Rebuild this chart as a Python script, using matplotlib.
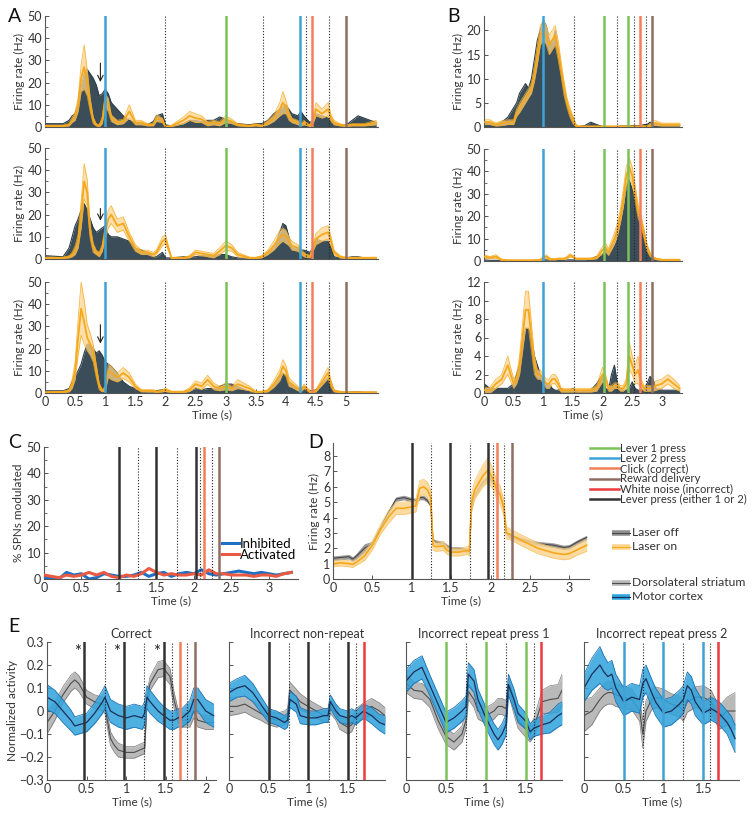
import numpy as np
import matplotlib
matplotlib.use('Agg')
from matplotlib import pyplot as plt
from matplotlib.ticker import FuncFormatter, MultipleLocator
from matplotlib.lines import Line2D

plt.rcParams['font.family'] = ['Lato', 'DejaVu Sans']

# ---------------- data ----------------
# panel A: shared time knots (s) for the three example neurons
a_time = [0, .3, .4, .45, .5, .55, .6, .65, .7, .75, .8, .85, .9, .95, 1.0, 1.05, 1.1, 1.2, 1.3, 1.4,
          1.5, 1.6, 1.7, 1.8, 1.85, 1.95, 2.0, 2.1, 2.3, 2.4, 2.5, 2.6, 2.7, 2.8, 2.9, 3.0, 3.1, 3.2, 3.4, 3.5,
          3.6, 3.7, 3.8, 3.9, 3.95, 4.0, 4.05, 4.1, 4.2, 4.25, 4.3, 4.4, 4.45, 4.5, 4.6, 4.7, 4.75, 4.8, 4.9, 5.0,
          5.1, 5.2, 5.3, 5.4, 5.5]
a1_off = [1.5, 1.5, 3, 5, 6, 10, 18, 24, 26, 24, 22, 19, 14, 15, 17, 15, 11, 8, 5, 3, 2, 2, 1, 2.5, 5,
          6, 1, 0.5, 1.5, 3, 3, 2.5, 3, 3, 4.5, 3.5, 2, 1.5, 1, 1.5, 1.5, 3, 6, 8, 9, 10, 8, 6, 5, 7,
          5, 2, 3, 6, 5, 4, 3, 2, 1, 0.8, 3, 5, 4, 3, 2]
a1_on = [0.5, 0.5, 1, 3, 5, 10, 22, 27, 20, 10, 3, 1, 0.5, 3, 12, 10, 4, 2, 2.5, 7, 2, 2, 1, 1, 4,
         3, 0, 0.5, 3, 5, 4, 3.5, 1.5, 2, 1.5, 3.5, 2.5, 1, 0.5, 1, 0.5, 2, 4, 8, 11, 9, 5, 3, 2, 1,
         2, 0.5, 3, 8, 6, 8, 4, 2, 1, 0.5, 1, 1, 1, 1.5, 2]
a1_on_e = [0.3, 0.3, 0.5, 1, 2, 3, 6, 10, 6, 3, 1.5, 0.5, 0.5, 1.5, 3, 3, 1.5, 1, 1, 3, 1, 1, 0.5, 0.5, 1.5,
           1, 0.3, 0.3, 1.5, 2, 2, 1.5, 1, 1, 1, 1.5, 1, 0.5, 0.3, 0.5, 0.3, 1, 1.5, 3, 5, 3, 2, 1, 1, 0.5,
           1, 0.3, 1.5, 3, 2, 3, 1.5, 1, 0.5, 0.3, 0.5, 0.5, 0.5, 0.8, 1]
a2_off = [1.5, 1, 5, 10, 15, 18, 22, 25, 22, 18, 14, 12, 13, 14, 15, 11, 10, 10, 9, 8, 5, 4, 3, 1, 1,
          3, 0.5, 0.5, 1, 1, 1, 1.5, 2, 1.5, 2, 2, 1, 0.5, 0.3, 0.5, 1, 2, 5, 12, 16, 15, 10, 5, 5, 4,
          4, 3, 5, 9, 8, 8, 5, 1, 0.5, 0.5, 1, 1, 0.5, 0.5, 0.5]
a2_on = [0.5, 0.5, 1, 2, 4, 8, 20, 35, 30, 12, 5, 3, 2, 5, 12, 18, 20, 15, 16, 10, 5, 3, 3, 2, 3,
         8, 9, 0.5, 0.5, 1, 3, 2.5, 2, 1.5, 3.5, 6, 5, 2, 0.5, 0.5, 1, 3, 6, 10, 11, 10, 8, 6, 5, 3,
         2, 1, 5, 9, 11, 12, 8, 3, 1, 0.5, 0.5, 0.5, 0.5, 0.5, 0.5]
a2_on_e = [0.3, 0.3, 0.5, 1, 2, 3, 6, 8, 6, 3, 2, 1, 1, 1.5, 3, 4, 4, 3, 3, 2, 1.5, 1, 1, 1, 1,
           2, 2, 0.3, 0.3, 0.5, 1, 1, 1, 1, 1.5, 2, 1.5, 1, 0.3, 0.3, 0.5, 1, 2, 3, 3, 3, 2, 2, 1.5, 1,
           1, 0.5, 1.5, 2.5, 3, 3, 2, 1, 0.5, 0.3, 0.3, 0.3, 0.3, 0.3, 0.3]
a3_off = [1, 1, 2, 5, 8, 10, 13, 18, 22, 22, 20, 18, 19, 17, 14, 13, 12, 9, 5, 3, 2, 1, 0.5, 0.5, 1,
          1.5, 0.5, 0.3, 0.3, 1, 2, 1.5, 2, 2, 3, 4, 4, 3, 0.5, 0.5, 0.5, 1, 4, 7, 9, 8, 5, 4, 2, 1.5,
          3, 1, 1, 1.5, 4, 7, 5, 1, 0.3, 0.2, 0.5, 0.5, 0.3, 0.3, 0.3]
a3_on = [0.3, 0.5, 1, 4, 10, 25, 38, 32, 25, 22, 18, 10, 3, 1, 2, 10, 9, 7, 9, 7, 3, 1, 1, 1, 0.5,
         1, 1.5, 0.5, 0.5, 1.5, 4, 3, 6, 3, 2, 3, 2, 4, 2, 0.5, 0.5, 1, 4, 8, 12, 10, 5, 4, 2, 1,
         3, 0.5, 0.5, 1, 5, 9, 4, 1, 0.5, 0.3, 0.3, 0.3, 0.3, 0.3, 0.3]
a3_on_e = [0.2, 0.3, 0.5, 2, 4, 8, 12, 10, 6, 5, 4, 3, 1.5, 0.5, 1, 3, 3, 2, 2.5, 2, 1, 0.5, 0.5, 0.5, 0.3,
           0.5, 0.8, 0.3, 0.3, 0.8, 1.5, 1.5, 2, 1.5, 1, 1.5, 1, 2, 1, 0.3, 0.3, 0.5, 1.5, 2.5, 3, 2.5, 2, 1.5, 1, 0.5,
           1, 0.3, 0.3, 0.5, 1.5, 2.5, 1.5, 0.5, 0.3, 0.2, 0.2, 0.2, 0.2, 0.2, 0.2]

# panel B: shared time knots (s)
b_time = [0, .1, .2, .3, .4, .5, .55, .6, .65, .7, .75, .8, .85, .9, .95, 1.0, 1.05, 1.1, 1.15, 1.2,
          1.25, 1.3, 1.35, 1.4, 1.45, 1.5, 1.55, 1.6, 1.7, 1.8, 1.9, 2.0, 2.05, 2.1, 2.15, 2.2, 2.25, 2.3, 2.35, 2.4,
          2.45, 2.5, 2.55, 2.6, 2.65, 2.7, 2.75, 2.8, 2.85, 2.9, 3.0, 3.1, 3.2, 3.3]
b1_off = [1, 1, 0.5, 1, 2, 4, 5, 7, 8, 9, 8, 10, 14, 18, 20, 22, 21, 18, 17, 20, 16, 12, 8, 5, 3,
          2, 0.3, 0.1, 0.3, 1, 0.5, 0.1, 0.1, 0.1, 0.1, 0.1, 0.1, 0.2, 0.2, 0.2, 0.2, 0.3, 0.3, 0.3, 0.3,
          0.5, 0.5, 1, 0.8, 0.5, 0.3, 0.3, 0.3, 0.3]
b1_on = [1, 1, 0.5, 0.8, 1, 1, 3, 4, 5, 6, 7, 8, 11, 15, 19, 20, 19, 17, 18, 19, 16, 12, 8, 5, 3,
         1.5, 0.3, 0.1, 0.1, 0.1, 0.1, 0.1, 0.1, 0.1, 0.1, 0.1, 0.1, 0.1, 0.1, 0.1, 0.1, 0.1, 0.1, 0.1, 0.1,
         0.1, 0.1, 0.3, 0.8, 0.8, 0.5, 0.5, 0.5, 0.5]
b1_on_e = [0.5, 0.5, 0.3, 0.5, 0.5, 0.5, 0.8, 1, 1, 1, 1, 1, 1.5, 2, 2, 2, 2, 2, 2, 2, 2, 1.5, 1.5, 1, 1,
           0.8, 0.3, 0.1, 0.1, 0.1, 0.1, 0.1, 0.1, 0.1, 0.1, 0.1, 0.1, 0.1, 0.1, 0.1, 0.1, 0.1, 0.1, 0.1, 0.1,
           0.1, 0.1, 0.3, 0.5, 0.5, 0.3, 0.3, 0.3, 0.3]
b2_off = [0.5, 0.3, 0.3, 0.3, 0.2, 0.2, 0.2, 0.2, 0.2, 0.2, 0.2, 0.2, 0.3, 0.3, 0.5, 0.5, 0.5, 0.5, 0.3, 0.3,
          0.3, 0.3, 0.3, 0.5, 0.5, 0.5, 0.5, 0.5, 0.5, 1, 2, 3, 5, 4, 6, 8, 12, 18, 25, 33,
          36, 32, 28, 22, 17, 13, 5, 2, 1, 0.5, 0.3, 0.3, 0.3, 0.3]
b2_on = [2, 1.5, 2, 0.5, 0.3, 0.3, 0.3, 0.3, 0.3, 0.3, 0.3, 0.3, 0.3, 0.3, 0.5, 1.5, 2, 1, 0.8, 0.8,
         1, 1, 1, 1.5, 2.5, 2, 1, 1, 1, 1, 1.5, 5, 6, 4, 7, 10, 14, 20, 28, 38,
         42, 38, 30, 22, 18, 12, 6, 3, 1.5, 1, 0.5, 0.5, 0.5, 0.5]
b2_on_e = [0.8, 0.5, 0.8, 0.3, 0.2, 0.2, 0.2, 0.2, 0.2, 0.2, 0.2, 0.2, 0.2, 0.2, 0.3, 0.5, 0.8, 0.5, 0.3, 0.3,
           0.3, 0.3, 0.3, 0.5, 0.8, 0.5, 0.3, 0.3, 0.3, 0.3, 0.5, 1.5, 2, 1.5, 2, 2.5, 3, 3, 4, 4,
           4, 4, 3.5, 3, 2.5, 2, 1.5, 1, 0.5, 0.3, 0.3, 0.3, 0.3, 0.3]
b3_off = [1, 0.5, 0.5, 0.5, 0.5, 1, 2, 3, 5, 7, 7, 6, 4, 3, 2, 1.5, 1, 1, 0.5, 0.3,
          0.3, 0.5, 0.3, 0.3, 0.3, 0.5, 0.3, 0.2, 0.3, 0.3, 1, 2, 0.5, 0.3, 2, 3, 1, 0.5, 0.3, 0.3,
          0.5, 1.2, 0.5, 0.3, 0.3, 0.5, 1, 1.8, 1.5, 0.5, 0.3, 0.3, 0.3, 0.3]
b3_on = [0.3, 0.3, 1, 1.5, 3, 1, 1.5, 3, 6, 9, 9, 6, 3, 2, 2, 1.5, 1, 1, 1.5, 1.5,
         1, 0.3, 0.3, 0.3, 0.3, 0.3, 0.3, 0.3, 0.3, 0.3, 0.5, 2, 1.5, 0.5, 0.5, 0.8, 0.8, 0.5, 0.5, 1,
         4, 3, 2, 2.5, 1, 0.5, 0.5, 0.5, 0.5, 0.8, 1, 1.5, 1, 0.5]
b3_on_e = [0.3, 0.3, 0.5, 0.5, 1, 0.5, 0.5, 1, 1.5, 2, 2, 1.5, 1, 0.5, 0.5, 0.5, 0.5, 0.5, 0.5, 0.5,
           0.5, 0.2, 0.2, 0.2, 0.2, 0.2, 0.2, 0.2, 0.2, 0.2, 0.3, 0.8, 0.5, 0.3, 0.3, 0.3, 0.3, 0.3, 0.3, 0.5,
           1.5, 1, 1, 1.5, 0.5, 0.3, 0.3, 0.3, 0.3, 0.5, 0.5, 0.5, 0.5, 0.3]

# panel C: % SPNs modulated, 0.1 s bins
c_inhibited = [0.5, 0.5, 0, 2.5, 1.5, 2, 0, 0.5, 2, 1.5, 1, 1, 1.5, 2.5, 1, 2, 2.5, 1, 2, 2.5,
               2, 3.5, 2, 1.5, 2, 2.5, 3, 2.5, 2, 2.5, 2, 1.5, 2, 2.5]
c_activated = [1.5, 1, 0.5, 1.5, 1, 1.5, 2.5, 1.5, 2.5, 1, 0.5, 1.5, 1, 2, 4, 2.5, 1.5, 2, 1.5, 1.5,
               2, 1.5, 3.5, 2, 2, 1.5, 1.5, 1.5, 1, 1.5, 1.5, 1, 2, 2.5]
c_time = np.arange(len(c_inhibited)) * 0.1

# panel D: population firing rate
d_time = [0, .1, .2, .25, .3, .4, .5, .6, .7, .8, .9, 1.0, 1.05, 1.1, 1.15, 1.2, 1.24, 1.27, 1.3, 1.4,
          1.45, 1.5, 1.6, 1.7, 1.73, 1.76, 1.8, 1.9, 1.97, 2.0, 2.05, 2.08, 2.12, 2.17, 2.2, 2.25, 2.4, 2.6, 2.8, 2.93,
          3.0, 3.1, 3.22]
d_on = [1.0, 1.05, 1.0, 0.95, 1.1, 1.5, 2.2, 3.2, 4.0, 4.6, 4.6, 4.7, 4.75, 5.9, 6.0, 5.8, 5.3, 2.2, 2.1, 2.15,
        1.85, 1.75, 1.75, 1.85, 1.8, 5.0, 5.8, 6.7, 7.1, 6.8, 6.3, 5.7, 5.5, 4.6, 3.0, 2.9, 2.5, 2.0, 1.7, 1.6,
        1.65, 1.9, 2.2]
d_on_e = [0.2, 0.2, 0.2, 0.2, 0.2, 0.3, 0.3, 0.3, 0.4, 0.4, 0.4, 0.4, 0.4, 0.5, 0.5, 0.5, 0.5, 0.3, 0.3, 0.3,
          0.25, 0.25, 0.25, 0.25, 0.3, 0.6, 0.6, 0.7, 0.8, 0.7, 0.6, 0.6, 0.6, 0.5, 0.4, 0.35, 0.35, 0.35, 0.35, 0.35,
          0.35, 0.35, 0.4]
d_off = [1.35, 1.4, 1.45, 1.3, 1.5, 2.0, 2.3, 3.3, 4.3, 5.2, 5.3, 5.15, 5.1, 5.3, 5.3, 5.1, 4.8, 2.5, 2.4, 2.3,
         2.1, 1.95, 1.95, 1.9, 1.75, 4.7, 5.5, 6.3, 6.6, 6.5, 6.2, 5.9, 5.6, 4.5, 3.0, 2.75, 2.55, 2.3, 2.2, 2.05,
         2.1, 2.4, 2.7]
d_off_e = [0.15, 0.15, 0.15, 0.15, 0.2, 0.3, 0.15, 0.15, 0.15, 0.15, 0.15, 0.15, 0.15, 0.15, 0.15, 0.15, 0.15, 0.15, 0.15, 0.15,
           0.15, 0.15, 0.15, 0.15, 0.15, 0.15, 0.15, 0.15, 0.15, 0.15, 0.15, 0.15, 0.15, 0.15, 0.15, 0.15, 0.15, 0.15, 0.15, 0.15,
           0.15, 0.15, 0.15]

# panel E: normalized activity, DLS (grey) and motor cortex (blue)
e1_time = [0, .1, .2, .3, .35, .4, .5, .6, .7, .73, .8, .85, .9, 1.0, 1.1, 1.2, 1.23, 1.26, 1.3, 1.4,
           1.47, 1.55, 1.6, 1.65, 1.7, 1.8, 1.85, 1.9, 2.0, 2.1]
e1_dls = [-0.05, 0.0, 0.07, 0.12, 0.135, 0.12, 0.06, 0.04, 0.03, 0.02, -0.12, -0.15, -0.17, -0.18, -0.18,
          -0.165, -0.16, 0.05, 0.12, 0.18, 0.185, 0.15, 0.05, -0.02, -0.04, -0.04, 0.0, -0.04, -0.05, -0.05]
e1_dls_e = [0.05, 0.04, 0.035, 0.035, 0.035, 0.035, 0.03, 0.03, 0.03, 0.03, 0.03, 0.03, 0.03, 0.025, 0.025,
            0.025, 0.025, 0.03, 0.03, 0.035, 0.035, 0.035, 0.035, 0.03, 0.03, 0.03, 0.03, 0.03, 0.03, 0.03]
e1_mc = [0.06, 0.04, 0.0, -0.04, -0.065, -0.06, -0.05, -0.01, 0.04, 0.06, 0.0, -0.01, -0.02, -0.03, -0.02,
         -0.03, -0.01, 0.06, 0.04, 0.0, -0.02, -0.04, -0.04, -0.03, -0.03, 0.0, 0.05, 0.05, 0.0, -0.02]
e1_mc_e = [0.055, 0.05, 0.05, 0.045, 0.04, 0.04, 0.04, 0.045, 0.05, 0.05, 0.05, 0.05, 0.05, 0.05, 0.05,
           0.05, 0.05, 0.05, 0.05, 0.045, 0.04, 0.04, 0.04, 0.04, 0.04, 0.045, 0.05, 0.05, 0.05, 0.05]

e2_time = [0, .1, .2, .3, .4, .5, .6, .7, .74, .77, .85, .9, 1.0, 1.1, 1.2, 1.25, 1.28, 1.35, 1.4, 1.5,
           1.55, 1.6, 1.7, 1.8, 1.9, 1.97]
e2_dls = [0.02, 0.02, 0.03, 0.01, -0.01, -0.03, -0.04, -0.03, -0.02, 0.09, 0.06, 0.04, 0.02, 0.0, -0.02,
          -0.02, 0.02, -0.01, -0.05, -0.07, -0.06, -0.02, 0.0, 0.02, 0.0, -0.02]
e2_dls_e = [0.04, 0.035, 0.035, 0.035, 0.03, 0.03, 0.03, 0.03, 0.03, 0.035, 0.035, 0.035, 0.03, 0.03, 0.03,
            0.03, 0.03, 0.03, 0.03, 0.03, 0.03, 0.03, 0.035, 0.035, 0.035, 0.035]
e2_mc = [0.08, 0.10, 0.11, 0.08, 0.03, -0.02, -0.03, -0.05, -0.04, 0.05, 0.03, -0.02, -0.03, -0.03, -0.02,
         -0.02, 0.04, 0.0, -0.02, -0.03, -0.02, -0.03, 0.0, -0.02, -0.05, -0.06]
e2_mc_e = [0.04, 0.04, 0.045, 0.04, 0.035, 0.03, 0.03, 0.03, 0.03, 0.035, 0.035, 0.035, 0.03, 0.03, 0.03,
           0.03, 0.03, 0.03, 0.03, 0.03, 0.03, 0.03, 0.03, 0.035, 0.035, 0.04]

e3_time = [0, .1, .2, .3, .4, .5, .6, .7, .75, .78, .85, .9, 1.0, 1.1, 1.15, 1.2, 1.25, 1.28, 1.35, 1.4,
           1.5, 1.55, 1.6, 1.7, 1.8, 1.9, 1.95]
e3_dls = [0.12, 0.09, 0.085, 0.05, -0.04, -0.11, -0.135, -0.1, -0.04, 0.085, 0.05, 0.0, -0.02, 0.0, 0.02,
          0.02, 0.01, 0.11, 0.02, -0.04, -0.08, -0.1, -0.07, 0.04, 0.05, 0.055, 0.09]
e3_dls_e = [0.04, 0.035, 0.035, 0.035, 0.035, 0.035, 0.035, 0.035, 0.035, 0.035, 0.035, 0.035, 0.035, 0.035, 0.035,
            0.035, 0.035, 0.035, 0.035, 0.035, 0.035, 0.035, 0.04, 0.05, 0.06, 0.06, 0.07]
e3_mc = [0.13, 0.17, 0.19, 0.11, 0.03, -0.05, -0.03, 0.0, 0.02, 0.16, 0.13, 0.05, -0.03, -0.1, -0.125,
         -0.1, -0.06, 0.115, 0.05, -0.01, -0.045, -0.09, -0.075, -0.06, -0.05, -0.02, -0.01]
e3_mc_e = [0.05, 0.05, 0.05, 0.045, 0.045, 0.045, 0.045, 0.045, 0.045, 0.05, 0.05, 0.045, 0.045, 0.045, 0.045,
           0.045, 0.045, 0.045, 0.045, 0.04, 0.035, 0.035, 0.035, 0.04, 0.045, 0.05, 0.05]

e4_time = [0, .1, .2, .25, .3, .35, .4, .5, .6, .7, .74, .78, .85, .9, 1.0, 1.1, 1.2, 1.25, 1.3, 1.35,
           1.4, 1.5, 1.6, 1.7, 1.8, 1.85, 1.9]
e4_dls = [-0.02, 0.0, 0.05, 0.07, 0.08, 0.08, 0.07, 0.06, 0.05, 0.0, -0.1, 0.0, 0.05, 0.06, 0.05,
          0.03, 0.02, 0.0, 0.04, 0.05, 0.06, 0.06, 0.04, -0.03, 0.0, 0.0, 0.0]
e4_dls_e = [0.07, 0.06, 0.05, 0.05, 0.05, 0.05, 0.05, 0.05, 0.045, 0.045, 0.06, 0.045, 0.045, 0.045, 0.045,
            0.045, 0.045, 0.045, 0.045, 0.045, 0.045, 0.05, 0.05, 0.05, 0.06, 0.07, 0.08]
e4_mc = [0.10, 0.16, 0.20, 0.17, 0.15, 0.16, 0.10, 0.04, 0.06, 0.05, 0.12, 0.14, 0.08, 0.04, -0.01,
         0.0, 0.03, 0.05, 0.11, 0.09, 0.04, -0.01, 0.01, -0.01, -0.05, -0.08, -0.12]
e4_mc_e = [0.06, 0.07, 0.08, 0.07, 0.06, 0.06, 0.06, 0.06, 0.06, 0.06, 0.06, 0.06, 0.06, 0.06, 0.06,
           0.06, 0.06, 0.06, 0.06, 0.06, 0.06, 0.05, 0.05, 0.05, 0.05, 0.06, 0.06]

# task events (time in s, event type); dotted = unlabelled markers
a_events = [(1.0, 'lever2'), (3.0, 'lever1'), (4.24, 'lever2'), (4.44, 'click'), (5.0, 'reward')]
a_dotted = [2.0, 3.62, 4.34, 4.72]
b_events = [(0.99, 'lever2'), (2.03, 'lever1'), (2.43, 'lever1'), (2.63, 'click'), (2.83, 'reward')]
b_dotted = [1.52, 2.24, 2.53, 2.73]
c_events = [(1.0, 'press'), (1.5, 'press'), (2.03, 'press'), (2.13, 'click'), (2.34, 'reward')]
c_dotted = [1.25, 1.77, 2.08, 2.24]
d_events = [(1.0, 'press'), (1.49, 'press'), (1.97, 'press'), (2.08, 'click'), (2.27, 'reward')]
d_dotted = [1.25, 1.74, 2.03, 2.17]
e1_events = [(0.47, 'press'), (0.97, 'press'), (1.47, 'press'), (1.67, 'click'), (1.87, 'reward')]
e1_dotted = [0.73, 1.22, 1.57, 1.77]
e2_events = [(0.5, 'press'), (1.0, 'press'), (1.5, 'press'), (1.7, 'noise')]
e2_dotted = [0.76, 1.26, 1.6]
e3_events = [(0.5, 'lever1'), (1.0, 'lever1'), (1.5, 'lever1'), (1.69, 'noise')]
e3_dotted = [0.75, 1.25, 1.6]
e4_events = [(0.5, 'lever2'), (1.0, 'lever2'), (1.5, 'lever2'), (1.68, 'noise')]
e4_dotted = [0.74, 1.24, 1.59]
star_times = [0.38, 0.88, 1.38]

event_labels = ['Lever 1 press', 'Lever 2 press', 'Click (correct)', 'Reward delivery',
                'White noise (incorrect)', 'Lever press (either 1 or 2)']
event_keys = ['lever1', 'lever2', 'click', 'reward', 'noise', 'press']
ecol = {'lever1': '#7cc259', 'lever2': '#3ea2d7', 'click': '#f17f5c', 'reward': '#8e6e63',
        'noise': '#ec3a3d', 'press': '#333333'}

# ---------------- style ----------------
W, H = 754, 815
DARK = '#3a4d58'
ORANGE = '#f5a81c'
ORANGE_BAND = '#fbd58f'
SPINE = '#555555'
TXT = '#333333'
FS = 9      # tick labels
LFS = 8.5   # axis labels


def box(x0, y0, x1, y1):
    return [x0 / W, 1 - y1 / H, (x1 - x0) / W, (y1 - y0) / H]


def fmt(v, p):
    s = '%g' % round(v, 3)
    return s.replace('-', '\u2212')


def style(ax, xlim, ylim, xticks=None, yticks=None, minor=None, xlabels=True, ylabels=True):
    ax.set_xlim(*xlim)
    ax.set_ylim(*ylim)
    ax.patch.set_alpha(0)
    for s in ['top', 'right']:
        ax.spines[s].set_visible(False)
    for s in ['left', 'bottom']:
        ax.spines[s].set_color(SPINE)
        ax.spines[s].set_linewidth(0.8)
    ax.tick_params(direction='in', length=3, width=0.7, colors=SPINE, labelcolor=TXT,
                   labelsize=FS, pad=2)
    ax.tick_params(which='minor', direction='in', length=2, width=0.6, colors=SPINE)
    if xticks is None:
        ax.set_xticks([])
    else:
        ax.set_xticks(xticks)
    if yticks is not None:
        ax.set_yticks(yticks)
    if minor:
        ax.yaxis.set_minor_locator(MultipleLocator(minor))
    ax.xaxis.set_major_formatter(FuncFormatter(fmt))
    ax.yaxis.set_major_formatter(FuncFormatter(fmt))
    if not xlabels:
        ax.set_xticklabels([])
    if not ylabels:
        ax.set_yticklabels([])


def events(ax, solid, dotted, lw=1.8):
    for t in dotted:
        ax.axvline(t, color='#222222', lw=0.8, ls=(0, (1, 1.6)), zorder=5)
    for t, k in solid:
        ax.axvline(t, color=ecol[k], lw=lw, zorder=6)


def rate_panel(ax, t, off, on, on_e):
    t = np.array(t)
    off = np.array(off)
    on = np.array(on)
    on_e = np.array(on_e)
    lo = np.clip(on - on_e, 0, None)
    hi = on + on_e
    ax.fill_between(t, 0, off, color=DARK, lw=0, zorder=1)
    ax.plot(t, off, color='#2c3d47', lw=0.8, zorder=1.5)
    ax.fill_between(t, lo, hi, color=ORANGE_BAND, alpha=0.75, lw=0, zorder=2)
    ax.plot(t, hi, color=ORANGE, lw=0.6, alpha=0.8, zorder=2.5)
    ax.plot(t, lo, color=ORANGE, lw=0.6, alpha=0.8, zorder=2.5)
    ax.plot(t, on, color=ORANGE, lw=1.3, zorder=3)


def norm_panel(ax, t, dls, dls_e, mc, mc_e):
    t = np.array(t)
    dls, dls_e, mc, mc_e = map(np.array, (dls, dls_e, mc, mc_e))
    ax.fill_between(t, dls - dls_e, dls + dls_e, color='#b9b9b9', lw=0, zorder=1)
    ax.plot(t, dls + dls_e, color='#7a7a7a', lw=0.5, zorder=1.2)
    ax.plot(t, dls - dls_e, color='#7a7a7a', lw=0.5, zorder=1.2)
    ax.plot(t, dls, color='#4d4d4d', lw=0.8, zorder=1.4)
    ax.fill_between(t, mc - mc_e, mc + mc_e, color='#2ea3dc', alpha=0.85, lw=0, zorder=2)
    ax.plot(t, mc + mc_e, color='#1f72b5', lw=0.6, zorder=2.2)
    ax.plot(t, mc - mc_e, color='#1f72b5', lw=0.6, zorder=2.2)
    ax.plot(t, mc, color='#1b2f5a', lw=0.9, zorder=2.4)


fig = plt.figure(figsize=(W / 100, H / 100), dpi=100)

# ---------------- panel A ----------------
a_rows = [(16, 127), (148, 259), (282, 393)]
a_data = [(a1_off, a1_on, a1_on_e), (a2_off, a2_on, a2_on_e), (a3_off, a3_on, a3_on_e)]
a_arrows = [(0.92, 30, 19), (0.92, 24, 16), (0.92, 32, 21)]
for i, ((y0, y1), (off, on, on_e), arr) in enumerate(zip(a_rows, a_data, a_arrows)):
    ax = fig.add_axes(box(45, y0, 378, y1))
    rate_panel(ax, a_time, off, on, on_e)
    events(ax, a_events, a_dotted)
    last = i == 2
    style(ax, (0, 5.53), (0, 50), xticks=np.arange(0, 5.01, 0.5) if last else None,
          yticks=[0, 10, 20, 30, 40, 50], minor=5)
    ax.set_ylabel('Firing rate (Hz)', fontsize=LFS, color=TXT, labelpad=2)
    ax.annotate('', xy=(arr[0], arr[2]), xytext=(arr[0], arr[1]),
                arrowprops=dict(arrowstyle='->', color='#222222', lw=0.8), zorder=8)
    if last:
        ax.set_xlabel('Time (s)', fontsize=LFS, color=TXT, labelpad=1)

# ---------------- panel B ----------------
b_rows = [(16, 127, 23, [0, 5, 10, 15, 20], None), (149, 261, 50, [0, 10, 20, 30, 40, 50], 5),
          (282, 393, 12, [0, 2, 4, 6, 8, 10, 12], None)]
b_data = [(b1_off, b1_on, b1_on_e), (b2_off, b2_on, b2_on_e), (b3_off, b3_on, b3_on_e)]
for i, ((y0, y1, ytop, yt, mn), (off, on, on_e)) in enumerate(zip(b_rows, b_data)):
    ax = fig.add_axes(box(484, y0, 682, y1))
    rate_panel(ax, b_time, off, on, on_e)
    events(ax, b_events, b_dotted)
    last = i == 2
    style(ax, (0, 3.34), (0, ytop), xticks=np.arange(0, 3.01, 0.5) if last else None,
          yticks=yt, minor=mn)
    ax.set_ylabel('Firing rate (Hz)', fontsize=LFS, color=TXT, labelpad=2)
    if last:
        ax.set_xlabel('Time (s)', fontsize=LFS, color=TXT, labelpad=1)

# ---------------- panel C ----------------
ax = fig.add_axes(box(44, 447, 298, 579))
ax.plot(c_time, c_inhibited, color='#1f6fc4', lw=2.2, zorder=3, label='Inhibited')
ax.plot(c_time, c_activated, color='#ea5a43', lw=2.2, zorder=3, label='Activated')
events(ax, c_events, c_dotted)
style(ax, (0, 3.39), (0, 50), xticks=np.arange(0, 3.01, 0.5), yticks=[0, 10, 20, 30, 40, 50], minor=5)
ax.set_ylabel('% SPNs modulated', fontsize=LFS, color=TXT, labelpad=2)
ax.set_xlabel('Time (s)', fontsize=LFS, color=TXT, labelpad=1)
ax.legend(loc='lower right', bbox_to_anchor=(1.02, 0.09), frameon=False, fontsize=9.5,
          handlelength=1.3, handletextpad=0.1, labelspacing=-0.1, borderpad=0)

# ---------------- panel D ----------------
ax = fig.add_axes(box(333, 443, 589, 579))
dt = np.array(d_time)
don, done, doff, doffe = map(np.array, (d_on, d_on_e, d_off, d_off_e))
ax.fill_between(dt, doff - doffe, doff + doffe, color='#9a9a9a', lw=0, zorder=1)
ax.plot(dt, doff, color='#4a4a4a', lw=0.8, zorder=1.2)
ax.fill_between(dt, don - done, don + done, color=ORANGE_BAND, alpha=0.85, lw=0, zorder=2)
ax.plot(dt, don + done, color='#f7c46a', lw=0.5, zorder=2.2)
ax.plot(dt, don - done, color='#f7c46a', lw=0.5, zorder=2.2)
ax.plot(dt, don, color=ORANGE, lw=1.2, zorder=2.5)
events(ax, d_events, d_dotted)
style(ax, (0, 3.25), (0, 8.85), xticks=np.arange(0, 3.01, 0.5), yticks=np.arange(0, 9))
ax.set_ylabel('Firing rate (Hz)', fontsize=LFS, color=TXT, labelpad=2)
ax.set_xlabel('Time (s)', fontsize=LFS, color=TXT, labelpad=1)

# ---------------- legends at right ----------------
for j, (lab, k) in enumerate(zip(event_labels, event_keys)):
    y = 1 - (448 + j * 10.2) / H
    fig.add_artist(Line2D([590 / W, 619 / W], [y, y], color=ecol[k], lw=1.8, transform=fig.transFigure))
    fig.text(620 / W, y, lab, fontsize=8.1, color=TXT, va='center', ha='left')

band_legend = [('Laser off', '#8f8f8f', '#4a4a4a', 533), ('Laser on', '#fbd58f', ORANGE, 547),
               ('Dorsolateral striatum', '#b9b9b9', '#4d4d4d', 583), ('Motor cortex', '#2ea3dc', '#1b2f5a', 597)]
for lab, c_band, c_line, yy in band_legend:
    y = 1 - yy / H
    fig.add_artist(Line2D([612 / W, 630 / W], [y, y], color=c_band, lw=4, solid_capstyle='butt',
                          transform=fig.transFigure))
    fig.add_artist(Line2D([612 / W, 630 / W], [y, y], color=c_line, lw=0.8, transform=fig.transFigure))
    fig.text(632 / W, y, lab, fontsize=8.7, color=TXT, va='center', ha='left')

# ---------------- panel E ----------------
e_cols = [(47, 216, 2.13), (229, 385, 1.97), (406, 562, 1.95), (584, 739, 1.95)]
e_data = [(e1_time, e1_dls, e1_dls_e, e1_mc, e1_mc_e), (e2_time, e2_dls, e2_dls_e, e2_mc, e2_mc_e),
          (e3_time, e3_dls, e3_dls_e, e3_mc, e3_mc_e), (e4_time, e4_dls, e4_dls_e, e4_mc, e4_mc_e)]
e_ev = [(e1_events, e1_dotted), (e2_events, e2_dotted), (e3_events, e3_dotted), (e4_events, e4_dotted)]
e_titles = ['Correct', 'Incorrect non-repeat', 'Incorrect repeat press 1', 'Incorrect repeat press 2']
for i, ((x0, x1, xr), dat, (sol, dot), ttl) in enumerate(zip(e_cols, e_data, e_ev, e_titles)):
    ax = fig.add_axes(box(x0, 642, x1, 780))
    norm_panel(ax, *dat)
    events(ax, sol, dot)
    xt = [0, 0.5, 1, 1.5, 2] if i == 0 else [0, 0.5, 1, 1.5]
    style(ax, (0, xr), (-0.3, 0.3), xticks=xt, yticks=np.round(np.arange(-0.3, 0.31, 0.1), 1),
          ylabels=(i == 0))
    ax.set_xlabel('Time (s)', fontsize=LFS, color=TXT, labelpad=1)
    ax.set_title(ttl, fontsize=9, color=TXT, pad=3)
    if i == 0:
        ax.set_ylabel('Normalized activity', fontsize=LFS, color=TXT, labelpad=1)
        for st in star_times:
            ax.text(st, 0.255, '*', fontsize=12, ha='center', va='center', color='#222222')

# panel letters
for lab, x, y in [('A', 8, 16), ('B', 447, 16), ('C', 8, 443), ('D', 308, 443), ('E', 8, 626)]:
    fig.text(x / W, 1 - y / H, lab, fontsize=14, color='#111111', ha='left', va='center')

fig.savefig('out.png', dpi=100)
